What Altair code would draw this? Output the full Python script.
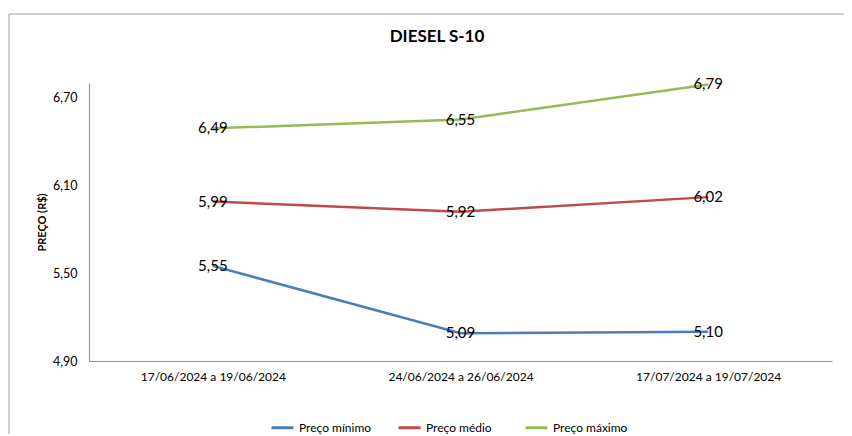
import altair as alt
import pandas as pd

periods = ["17/06/2024 a 19/06/2024", "24/06/2024 a 26/06/2024", "17/07/2024 a 19/07/2024"]
series_names = ["Preço mínimo", "Preço médio", "Preço máximo"]
preco_minimo = [5.55, 5.09, 5.10]
preco_medio = [5.99, 5.92, 6.02]
preco_maximo = [6.49, 6.55, 6.79]
y_ticks = [4.90, 5.50, 6.10, 6.70]
colors = ["#4a7ebb", "#be4b48", "#98b954"]
chart_title = "DIESEL S-10"

rows = []
for name, vals in zip(series_names, [preco_minimo, preco_medio, preco_maximo]):
    for p, v in zip(periods, vals):
        rows.append({"periodo": p, "serie": name, "valor": v})
df = pd.DataFrame(rows)

FONT = "Lato"

x = alt.X("periodo:N", sort=periods, title=None,
          scale=alt.Scale(type="point", padding=0.5),
          axis=alt.Axis(labelAngle=0, ticks=False, grid=False, domainColor="#8c8c8c",
                        labelFontSize=12, labelPadding=10, labelColor="#000000", labelFont=FONT))
y = alt.Y("valor:Q", title="PREÇO (R$)",
          scale=alt.Scale(domain=[4.9, 6.8], nice=False, zero=False),
          axis=alt.Axis(values=y_ticks, grid=False, ticks=False, domainColor="#8c8c8c",
                        labelExpr="replace(format(datum.value, '.2f'), '.', ',')",
                        labelFontSize=12.5, labelPadding=12, labelColor="#000000", labelFont=FONT,
                        titleFontSize=11, titleFontWeight="bold", titleFont=FONT, titleColor="#000000",
                        titleX=-47, titleY=139, titleBaseline="middle", titleAngle=-90))
color = alt.Color("serie:N", sort=series_names,
                  scale=alt.Scale(domain=series_names, range=colors),
                  legend=alt.Legend(title=None, orient="none", legendX=181, legendY=332,
                                    direction="horizontal", columns=3, gridAlign="all",
                                    columnPadding=18, symbolType="stroke", symbolSize=484,
                                    symbolStrokeWidth=3, labelFontSize=12, labelOffset=4,
                                    labelFont=FONT, labelColor="#000000"))

lines = alt.Chart(df).mark_line(strokeWidth=2.5).encode(x=x, y=y, color=color)
labels = alt.Chart(df).mark_text(fontSize=15, font=FONT, color="#000000", baseline="middle").transform_calculate(
    lab="replace(format(datum.valor, '.2f'), '.', ',')"
).encode(x=x, y=y, text="lab:N")

frame_df = pd.DataFrame({"t": [chart_title]})
frame_top = alt.Chart(frame_df).mark_rule(color="#bfbfbf", strokeWidth=1.5).encode(
    x=alt.value(-80), x2=alt.value(800), y=alt.value(-69))
frame_left = alt.Chart(frame_df).mark_rule(color="#bfbfbf", strokeWidth=1.5).encode(
    x=alt.value(-80), y=alt.value(-69), y2=alt.value(400))
title = alt.Chart(frame_df).mark_text(fontSize=17, fontWeight="bold", font=FONT, color="#000000",
                                      baseline="middle", align="center").encode(
    x=alt.value(348), y=alt.value(-46), text="t:N")

chart = alt.layer(frame_top, frame_left, title, lines, labels).properties(
    width=743, height=278,
    background="#ffffff",
    view=alt.ViewBackground(stroke="transparent", strokeWidth=0),
    autosize=alt.AutoSizeParams(type="none"),
    padding={"left": 81, "top": 75, "right": 12, "bottom": 73},
).configure_view(strokeWidth=0, stroke="transparent")

chart.save("out.html", embed_options={"renderer": "svg", "actions": False})
